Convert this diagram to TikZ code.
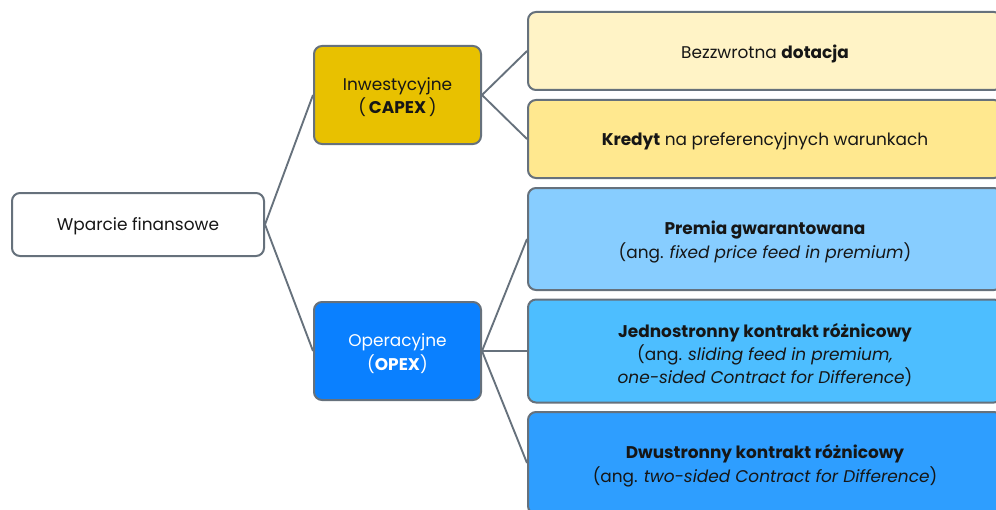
\documentclass[tikz,border=0pt]{standalone}
\usepackage{fontspec}
\setmainfont{Poppins}
\definecolor{edge}{HTML}{66717C}
\definecolor{capex}{HTML}{E8C100}
\definecolor{bezz}{HTML}{FFF3C6}
\definecolor{kred}{HTML}{FFE88F}
\definecolor{opex}{HTML}{0A80FF}
\definecolor{prem}{HTML}{87CDFF}
\definecolor{jedn}{HTML}{4DBEFF}
\definecolor{dwu}{HTML}{2E9EFF}
\definecolor{txt}{HTML}{161616}
\tikzset{
  box/.style={draw=edge, line width=1.5pt, rounded corners=6pt, inner sep=0pt},
  lbl/.style={inner sep=0pt, align=center, text=txt, font=\fontsize{12.7}{17.4}\selectfont},
  conn/.style={draw=edge, line width=1.4pt}
}
\begin{document}
\begin{tikzpicture}[x=0.75pt,y=-0.75pt]
\useasboundingbox (0,0) rectangle (996,510);
\clip (0,0) rectangle (996,510);
\fill[white] (0,0) rectangle (996,510);
\node[box, fill=white, minimum width=189pt, minimum height=47.25pt] (root) at (138,224.5) {};
\node[box, fill=capex, minimum width=125.25pt, minimum height=73.5pt] (capex) at (397.5,95) {};
\node[box, fill=opex, minimum width=125.25pt, minimum height=73.5pt] (opex) at (397.5,351) {};
\node[box, fill=bezz, minimum width=355.5pt, minimum height=58.5pt] (bezz) at (765,51) {};
\node[box, fill=kred, minimum width=355.5pt, minimum height=58.5pt] (kred) at (765,139) {};
\node[box, fill=prem, minimum width=355.5pt, minimum height=76.5pt] (prem) at (765,239) {};
\node[box, fill=jedn, minimum width=355.5pt, minimum height=77.25pt] (jedn) at (765,351) {};
\node[box, fill=dwu, minimum width=355.5pt, minimum height=76.5pt] (dwu) at (765,463) {};
\node[lbl] (rootT) at ([yshift=-1.5pt]root.center) {Wparcie finansowe};
\node[lbl] (capexT) at ([yshift=-1.5pt]capex.center) {Inwestycyjne\\(\,\textbf{CAPEX}\,)};
\node[lbl, text=white] (opexT) at ([yshift=-2pt]opex.center) {Operacyjne\\(\textbf{OPEX})};
\node[lbl] (bezzT) at ([yshift=-2.5pt]bezz.center) {Bezzwrotna \textbf{dotacja}};
\node[lbl] (kredT) at ([yshift=-2pt]kred.center) {\textbf{Kredyt} na preferencyjnych warunkach};
\node[lbl] (premT) at ([yshift=-2.2pt]prem.center) {\textbf{Premia gwarantowana}\\(ang. \textit{fixed price feed in premium})};
\node[lbl] (jednT) at ([yshift=-2.8pt]jedn.center) {\textbf{Jednostronny kontrakt różnicowy}\\(ang. \textit{sliding feed in premium,}\\\textit{one-sided Contract for Difference})};
\node[lbl] (dwuT) at ([yshift=-2pt]dwu.center) {\textbf{Dwustronny kontrakt różnicowy}\\(ang. \textit{two-sided Contract for Difference})};
\draw[conn] (root.east) -- (capex.west);
\draw[conn] (root.east) -- (opex.west);
\draw[conn] (capex.east) -- (bezz.west);
\draw[conn] (capex.east) -- (kred.west);
\draw[conn] (opex.east) -- (prem.west);
\draw[conn] (opex.east) -- (jedn.west);
\draw[conn] (opex.east) -- (dwu.west);
\end{tikzpicture}
\end{document}
